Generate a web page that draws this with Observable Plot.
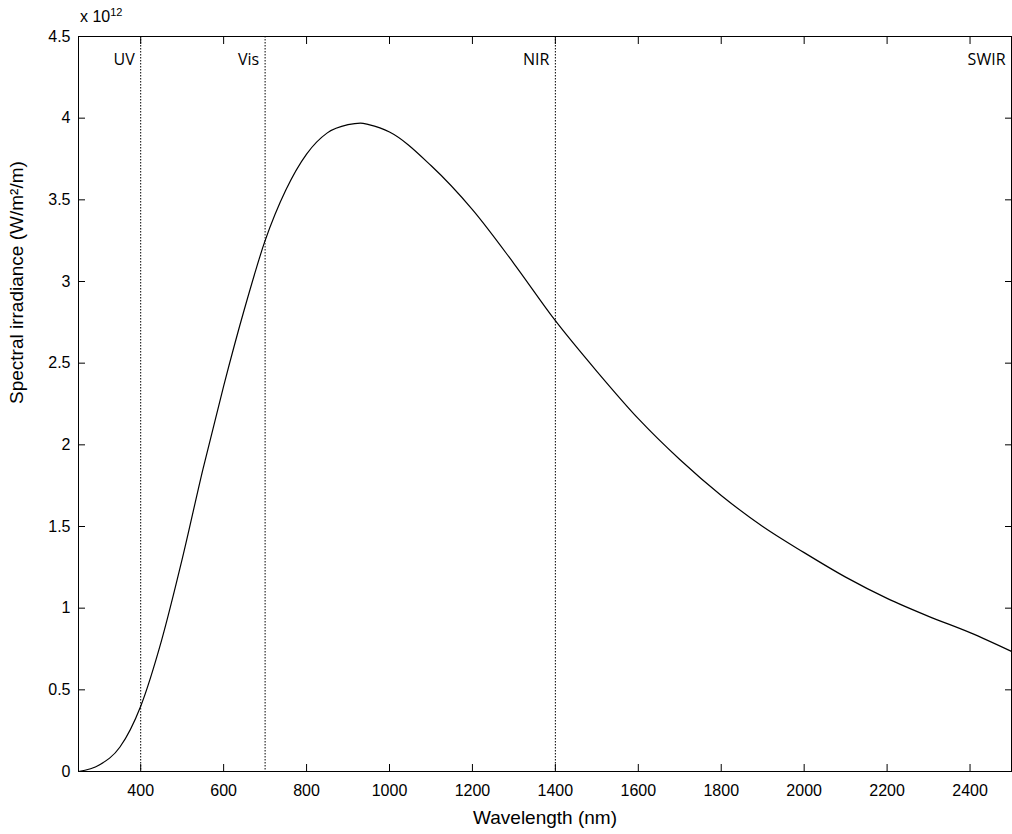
<!DOCTYPE html>
<html><head><meta charset="utf-8">
<script src="https://cdn.jsdelivr.net/npm/d3@7"></script>
<script src="https://cdn.jsdelivr.net/npm/@observablehq/plot@0.6"></script>
<style>body{margin:0;background:#fff}#chart{position:relative;width:1012px}
#exp{position:absolute;left:80px;top:6px;font:16px "Liberation Sans",Arial,sans-serif}</style>
</head><body><div id="chart"><div id="exp">x 10<sup style="font-size:11px">12</sup></div></div>
<script>
const wavelength = [250,300,350,400,450,500,550,600,650,700,750,800,850,900,930,950,1000,1100,1200,1300,1400,1500,1600,1700,1800,1900,2000,2100,2200,2300,2400,2500];
const irradiance = [0.0,0.04,0.15,0.40,0.80,1.30,1.85,2.36,2.83,3.25,3.56,3.78,3.91,3.96,3.97,3.96,3.915,3.71,3.44,3.11,2.76,2.45,2.16,1.91,1.69,1.50,1.34,1.19,1.06,0.95,0.85,0.735];
const bandEdges = [400,700,1400,2500];
const bandNames = ["UV","Vis","NIR","SWIR"];
const data = wavelength.map((w,i)=>({w, e: irradiance[i]}));
const bands = bandEdges.map((w,i)=>({w, name: bandNames[i]}));
const xt = d3.range(400,2401,200), yt = d3.range(0,4.51,0.5);
const chart = Plot.plot({
  width: 1012, height: 834,
  marginLeft: 78, marginRight: 1, marginTop: 36, marginBottom: 63,
  style: {fontFamily: '"Liberation Sans", Arial, sans-serif', fontSize: "16px", color: "#000"},
  x: {domain: [250,2500]},
  y: {domain: [0,4.5]},
  marks: [
    Plot.frame({stroke: "#000"}),
    Plot.axisX({ticks: xt, tickSize: -7, tickPadding: 20, tickFormat: d => String(d), label: null, fontSize: 16}),
    Plot.axisX({anchor: "top", ticks: xt, tickSize: -7, tickFormat: () => "", label: null}),
    Plot.axisY({ticks: yt, tickSize: -7, tickPadding: 15, tickFormat: d => String(d), label: null, fontSize: 16}),
    Plot.axisY({anchor: "right", ticks: yt, tickSize: -7, tickFormat: () => "", label: null}),
    Plot.text(["Wavelength (nm)"], {frameAnchor: "bottom", dy: 52, fontSize: 19}),
    Plot.text(["Spectral irradiance (W/m²/m)"], {frameAnchor: "left", dx: -62, rotate: -90, fontSize: 19}),
    Plot.ruleX(bandEdges.slice(0,3), {stroke: "#000", strokeDasharray: "1.5,1.5"}),
    Plot.text(bands, {x: "w", frameAnchor: "top", text: "name", textAnchor: "end", dx: -6, dy: 17, fontSize: 16, fontFamily: '"Open Sans", sans-serif'}),
    Plot.line(data, {x: "w", y: "e", curve: "monotone-x", stroke: "#000", strokeWidth: 1.2})
  ]
});
document.getElementById("chart").append(chart);
</script></body></html>
